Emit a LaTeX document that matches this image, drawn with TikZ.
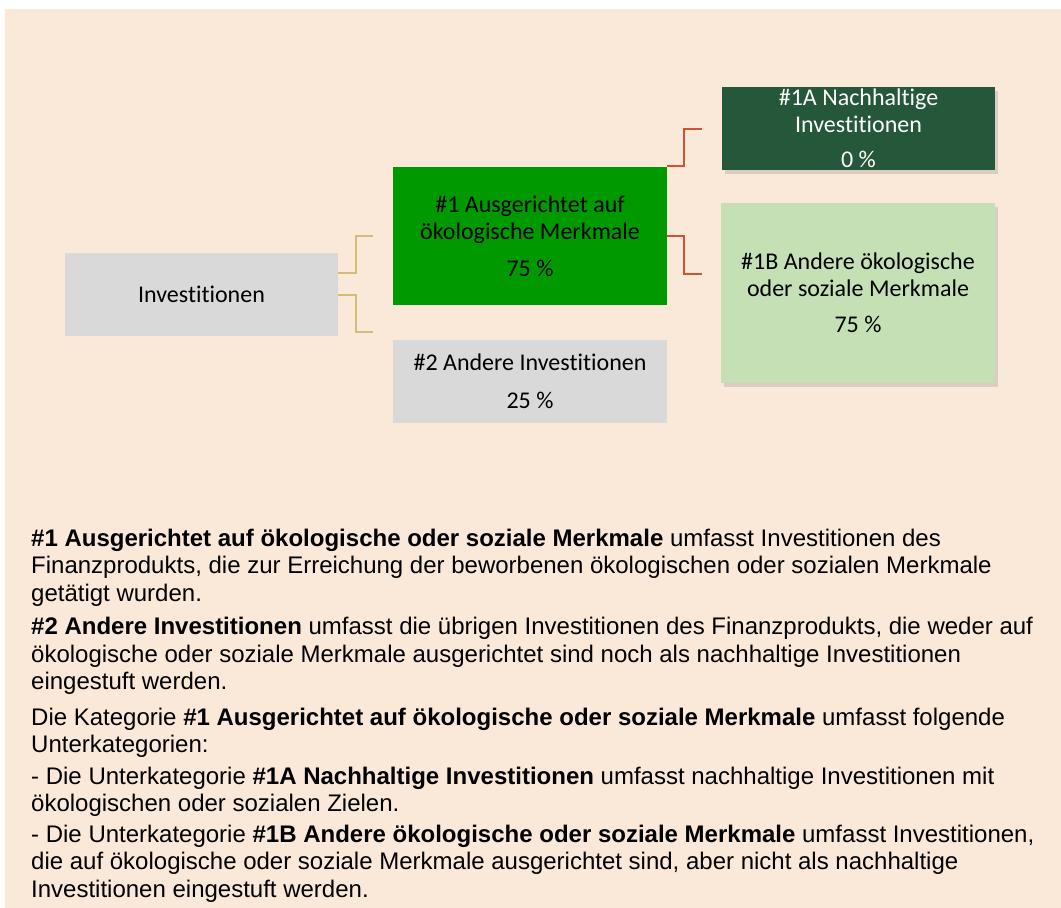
\documentclass[tikz,border=0pt]{standalone}
\usepackage{fontspec}
\setmainfont{Liberation Sans}
\newfontfamily\calib[Ligatures=NoCommon]{Carlito}
\usetikzlibrary{shadows}
\definecolor{bg}{RGB}{250,232,216}
\definecolor{boxgray}{RGB}{217,217,217}
\definecolor{midgreen}{RGB}{0,153,0}
\definecolor{darkgreen}{RGB}{37,88,58}
\definecolor{lightgreen}{RGB}{197,224,180}
\definecolor{goldline}{RGB}{210,190,120}
\definecolor{redline}{RGB}{208,82,46}
\tikzset{
  box/.style={inner sep=0pt, align=center, font=\calib\fontsize{24}{27}\selectfont},
  shadowed/.style={drop shadow={opacity=0.25, shadow xshift=3pt, shadow yshift=-4pt}},
  goldc/.style={draw=goldline, line width=2.2pt},
  redc/.style={draw=redline, line width=2.2pt},
  para/.style={anchor=north west, inner sep=0pt, align=left, font=\fontsize{24}{27.5}\selectfont}
}
\begin{document}
\begin{tikzpicture}[x=1pt,y=-1pt]
\useasboundingbox (0,0) rectangle (1061,908);
\fill[bg] (5,9) rectangle (1061,908);

\node[box, fill=boxgray, minimum width=273pt, minimum height=83pt] (inv) at (201.5,294.5) {Investitionen};
\node[box, fill=midgreen, minimum width=274pt, minimum height=138pt] (n1) at (530,236) {\#1 Ausgerichtet auf\\ökologische Merkmale\\[10pt]75~\%};
\node[box, fill=boxgray, minimum width=274pt, minimum height=83pt] (n2) at (530,381.5) {\#2 Andere Investitionen\\[11pt]25~\%};
\node[box, shadowed, fill=darkgreen, text=white, minimum width=273pt, minimum height=83pt] (n1a) at (858.5,128.5) {\#1A Nachhaltige\\Investitionen\\[8pt]0~\%};
\node[box, shadowed, fill=lightgreen, minimum width=274pt, minimum height=180pt] (n1b) at (858,293) {\#1B Andere ökologische\\oder soziale Merkmale\\[9pt]75~\%};

\coordinate (g1) at (373,236);
\coordinate (g2) at (373,332);
\coordinate (r1) at (702,129);
\coordinate (r2) at (702,274);
\draw[goldc] ([yshift=21.5pt]inv.east) -- ++(18,0) |- (g1);
\draw[goldc] ([yshift=-0.5pt]inv.east) -- ++(18,0) |- (g2);
\draw[redc] ([yshift=70pt]n1.east) -- ++(17,0) |- (r1);
\draw[redc] (n1.east) -- ++(17,0) |- (r2);

\node[para] (p1) at (31,526.75) {\strut\textbf{\#1 Ausgerichtet auf ökologische oder soziale Merkmale} umfasst Investitionen des\\Finanzprodukts, die zur Erreichung der beworbenen ökologischen oder sozialen Merkmale\\getätigt wurden.};
\node[para] (p2) at (31,615.5) {\strut\textbf{\#2 Andere Investitionen} umfasst die übrigen Investitionen des Finanzprodukts, die weder auf\\ökologische oder soziale Merkmale ausgerichtet sind noch als nachhaltige Investitionen\\eingestuft werden.};
\node[para] (p3) at (31,706) {\strut Die Kategorie \textbf{\#1 Ausgerichtet auf ökologische oder soziale Merkmale} umfasst folgende\\Unterkategorien:};
\node[para] (p4) at (31,764.75) {\strut- Die Unterkategorie \textbf{\#1A Nachhaltige Investitionen} umfasst nachhaltige Investitionen mit\\ökologischen oder sozialen Zielen.};
\node[para] (p5) at (31,822.75) {\strut- Die Unterkategorie \textbf{\#1B Andere ökologische oder soziale Merkmale} umfasst Investitionen,\\die auf ökologische oder soziale Merkmale ausgerichtet sind, aber nicht als nachhaltige\\Investitionen eingestuft werden.};
\end{tikzpicture}
\end{document}
